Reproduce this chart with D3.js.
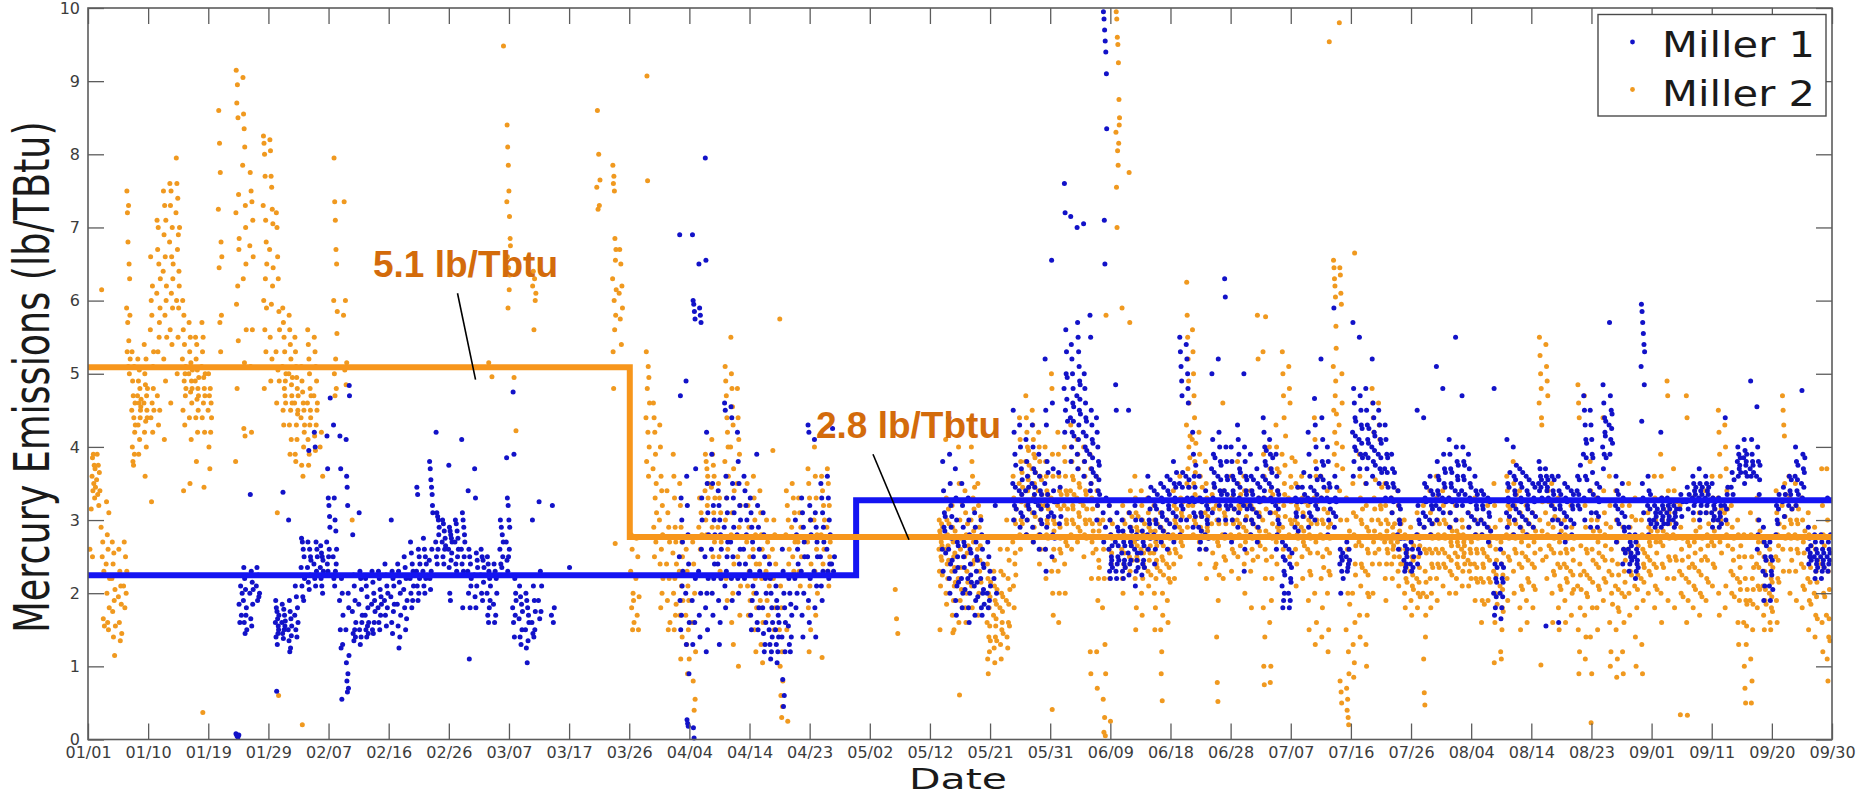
<!DOCTYPE html>
<html lang="en">
<head>
<meta charset="utf-8">
<script src="https://cdn.jsdelivr.net/npm/d3@7"></script>
<style>
  body { margin: 0; background: #fff; }
  svg { display: block; }
</style>
</head>
<body>
<script>
// x axis: days since 01/01, ticks evenly spaced up to 09/30
const lastDay = 272;
const tickLabels = ["01/01","01/10","01/19","01/29","02/07","02/16","02/26","03/07","03/17","03/26",
  "04/04","04/14","04/23","05/02","05/12","05/21","05/31","06/09","06/18","06/28",
  "07/07","07/16","07/26","08/04","08/14","08/23","09/01","09/11","09/20","09/30"];
const yTicks = [0,1,2,3,4,5,6,7,8,9,10];

// limit levels (lb/TBtu), step changes: [day, level]
const miller1Limit = [[0, 2.245], [119.8, 3.27], [272, 3.27]];
const miller2Limit = [[0, 5.09], [84.5, 2.77], [272, 2.77]];

// readings: [day, readings through that day in time order...]
const miller1 = [
  [23.3,0.08,0.05,0.03,0.06],[23.8,1.85,1.6,2.1,1.7,2.0],[24.5,1.9,2.35,1.6,2.2,1.45,2.05,1.7,1.8,1.5],
  [25.5,2.0,3.35,1.65,2.3,1.55,2.15,1.85,2.05],[26.5,2.1,2.35,1.9,2.25,1.95,2.0],
  [29.5,1.6,1.9,1.4,1.8,0.66,1.75,1.3,1.65,1.45,1.55,1.5,1.7],[30.5,1.6,1.85,1.45,3.38,1.38,1.78,1.5,1.7,1.55,1.62],
  [31.5,1.5,3.0,1.35,1.9,1.2,1.75,1.25,1.65,1.42,1.55],[32.5,1.7,2.1,1.5,1.95,1.4,1.8,1.6],
  [33.5,2.35,2.75,2.1,2.7,1.95,2.6,1.9,2.5,2.2],[34.5,2.35,2.7,2.15,3.95,2.05,2.6,2.25,2.5,2.45],
  [35.5,2.4,4.2,2.2,4.0,2.1,2.7,2.3,2.6,2.5],[36.5,2.35,2.65,2.2,2.55,2.1,2.5,2.0,2.45,2.3,2.25],
  [37.5,2.7,4.15,2.4,3.7,2.3,3.3,2.5,3.2,2.6,3.05,2.9,4.67],[38.5,2.5,4.3,2.2,3.3,2.1,3.0,2.3,2.85,2.4,2.6],
  [39.5,1.9,4.15,1.5,3.7,1.25,2.2,0.55,2.0,1.3,1.7],[40.5,1.5,4.1,1.05,3.6,0.8,3.45,0.65,3.2,0.9,2.0,0.7,1.8,1.15,4.84,4.7],
  [41.5,1.75,2.8,1.45,2.25,1.35,2.1,1.5,1.9,1.4,1.6],[42.5,1.85,3.1,1.5,2.3,1.3,2.2,1.4,2.05,1.6,1.7],
  [43.5,1.7,2.2,1.5,2.1,1.4,1.95,1.55,1.8,1.45,1.6],[44.5,1.85,2.3,1.5,2.15,1.45,2.0,1.6,1.9,1.75],
  [45.5,1.8,2.3,1.6,2.2,1.5,2.05,1.7,1.95,1.85],[46.5,1.9,2.4,1.7,2.25,1.55,2.1,1.8,2.0],
  [47.5,1.95,3.0,1.6,2.3,1.45,2.2,1.75,2.1,1.85],[48.5,1.85,2.4,1.55,2.3,1.25,2.15,1.4,2.0,1.7],
  [49.5,2.05,2.5,1.8,2.35,1.5,2.2,1.65,1.9],[50.5,2.2,2.7,2.0,2.55,1.8,2.4,1.9,2.3,2.1],
  [51.5,2.3,3.45,2.1,3.35,1.9,2.6,2.0,2.5,2.2,2.4],[52.5,2.3,2.75,2.1,2.6,2.0,2.5,2.2,2.4],
  [53.5,2.45,3.8,2.2,3.7,2.05,3.55,2.3,3.45,2.6,3.35,3.2,3.1],[54.5,2.7,4.2,2.5,3.1,2.4,3.05,2.6,3.0,2.8,2.9],
  [55.5,2.7,3.0,2.5,2.95,2.4,2.85,2.6,2.75,2.65],[56.5,2.6,3.75,2.35,2.9,2.0,2.85,1.9,2.8,2.45,2.75,2.55,2.7],
  [57.5,2.7,3.0,2.4,2.95,2.3,2.85,2.5,2.75,2.6],[58.5,2.6,4.1,2.4,3.1,1.8,3.0,2.3,2.9,2.5,2.8,2.7],
  [59.5,2.3,3.4,2.0,2.6,1.1,2.5,1.8,2.4,2.1,2.2],[60.5,2.25,3.7,1.95,3.3,1.8,2.55,2.1,2.45,2.35],
  [61.5,2.25,2.6,2.0,2.5,1.9,2.45,2.15,2.35],[62.5,2.0,2.5,1.7,2.4,1.6,2.3,1.8,2.2,1.9,2.1],
  [63.5,1.85,2.4,1.6,2.3,1.7,2.2,2.0],[64.5,2.6,3.0,2.4,2.9,2.35,2.8,2.5,2.7],
  [65.5,2.7,3.85,2.45,3.3,2.3,3.2,2.5,3.0,2.6,2.9],[66.5,1.8,4.75,1.6,3.9,1.4,2.2,1.7,2.0,1.9],
  [67.5,1.65,2.1,1.4,1.95,1.3,1.85,1.5,1.75],[68.5,1.5,2.0,1.25,1.9,1.05,1.8,1.35,1.7,1.6],
  [69.5,1.6,3.0,1.45,2.1,1.4,1.9,1.5,1.75],[70.5,1.9,3.25,1.65,2.3,1.75,2.1],[72.5,1.7,3.2,1.6,1.8],[75.1,2.35],
  [92.5,2.5,6.9,1.9,4.7,1.5,3.3,1.7,3.0,2.1,2.7,2.3],[93.5,2.0,4.9,1.3,3.6,0.27,3.2,0.22,2.8,0.18,2.4,0.9,1.6],
  [94.5,1.9,6.9,1.3,6.0,0.16,5.95,0.02,5.85,1.6,5.75,2.2,3.7],[95.5,2.3,6.5,1.7,5.9,1.4,5.8,2.0,5.7,2.6,3.3,3.0],
  [96.5,2.5,7.95,1.8,6.55,1.2,4.2,2.0,3.5,1.5,3.1,2.2,2.8],[97.5,2.6,3.9,2.0,3.5,1.7,3.2,2.2,3.0,2.4,2.8],
  [98.5,2.4,3.4,1.9,3.2,1.3,3.0,1.6,2.8,2.2,2.6],[99.5,2.9,4.6,2.1,4.5,1.8,3.6,2.3,3.3,2.5,3.1,2.7],
  [100.5,2.7,4.55,2.2,4.4,1.9,3.5,2.5,3.3,2.9,3.1],[101.5,2.8,4.2,2.2,3.8,2.0,3.5,2.4,3.2,2.6,3.0],
  [102.5,2.6,3.6,2.2,3.4,2.4,3.2,2.8,3.0],[103.5,2.3,3.3,1.7,3.1,1.5,2.9,1.9,2.7,2.1,2.5],
  [104.5,2.0,3.9,1.6,3.2,1.5,2.9,1.8,2.6,2.3],[105.5,1.8,3.1,1.45,2.8,1.2,2.5,1.3,2.2,1.6,2.0],
  [106.5,1.5,2.4,1.3,2.2,1.1,2.0,1.2,1.8,1.4,1.6],[107.5,1.5,2.1,1.3,1.9,1.05,1.8,1.2,1.7,1.4,1.6],
  [108.5,1.4,2.6,0.82,2.3,0.45,2.0,0.6,1.8,1.2,1.6],[109.5,1.55,2.2,1.3,2.0,1.2,1.85,1.4,1.7],
  [110.5,2.2,3.0,1.8,2.8,2.0,2.6,2.4],[111.5,2.3,3.3,1.7,3.1,1.4,2.9,2.0,2.7,2.5],
  [112.5,2.5,4.3,1.9,4.2,1.6,3.2,2.2,3.0,2.8],[113.5,2.3,4.1,1.8,3.1,1.4,2.9,2.1,2.7,2.5],
  [114.5,2.5,3.5,2.1,3.3,1.9,3.1,2.3,2.9,2.7],[115.5,2.6,3.6,2.3,3.3,2.2,3.0,2.4,2.8],[116.2,2.4,4.25,2.3,2.5],
  [133.5,2.6,3.8,2.3,3.4,2.9,3.1,2.85,3.05,2.55],[134.5,2.6,4.4,2.2,3.9,2.0,3.5,2.4,3.2,2.9,2.75,3.05,2.45],
  [135.5,2.3,3.7,1.9,3.3,1.7,3.0,2.1,2.7,2.5,2.35,2.65,2.15],[136.5,2.2,3.5,1.8,3.2,2.0,2.9,2.5,2.7,2.35,2.65,2.05],
  [137.5,2.2,3.3,1.8,3.0,1.6,2.8,2.0,2.6,2.4,2.25,2.55,2.15],[138.5,2.1,3.1,1.7,2.9,1.9,2.7,2.3,2.5,2.15,2.45,1.95],
  [139.5,2.2,3.0,1.8,2.8,1.7,2.6,2.0,2.4,2.05,2.35,1.85],[140.5,2.0,2.7,1.8,2.5,1.9,2.3,2.1],[141.5,2.2,3.2,2.0],
  [144.5,3.5,4.5,3.0,4.2,3.2,3.9,3.45,3.75,3.15],[145.5,3.4,4.3,2.9,4.0,3.1,3.7,3.35,3.55,3.05],
  [146.5,3.4,4.1,2.8,3.8,3.0,3.6,3.2,3.25,3.45,3.15],[147.5,3.5,4.3,2.9,4.0,2.7,3.7,3.1,3.35,3.45,3.65,3.25],
  [148.5,3.2,3.9,2.6,3.6,2.8,3.4,3.0,3.15,3.35,2.95],[149.5,3.5,5.2,2.6,4.5,2.3,4.3,2.9,3.8,3.2,3.35,3.65,3.05],
  [150.5,3.1,6.55,2.5,4.6,2.8,3.7,3.4,3.05,3.25,2.75],[151.5,3.25,3.65,2.95,3.45,3.05],
  [152.5,4.8,7.6,4.2,7.2,4.5,5.6,5.0,5.3,4.65,4.95,4.35],[153.5,4.4,7.15,3.8,5.4,4.0,5.2,4.2,5.0,4.6,4.8,4.35,4.55,4.15],
  [154.5,4.7,7.0,3.9,5.7,3.7,5.5,4.1,5.3,4.3,5.1,4.5,4.9,4.65,4.85,4.45],[155.5,4.2,7.05,3.6,5.0,3.8,4.8,4.0,4.6,4.4,4.15,4.35,3.95],
  [156.5,3.9,5.8,3.4,5.5,3.5,4.5,3.7,4.3,4.1,3.85,4.05,3.65],[157.5,3.6,4.4,3.0,4.2,3.2,4.0,3.4,3.8,3.55,3.75,3.35],
  [158.6,3.1,9.95,2.7,9.85,7.1,9.7,6.5,9.55,2.9,9.4,3.3,9.1,8.35],[159.5,2.6,3.2,2.3,3.0,2.2,2.8,2.4,2.5,2.45,2.65,2.35],
  [160.5,2.7,4.85,2.3,4.5,2.2,3.1,2.4,2.9,2.5,2.65,2.85,2.45],[161.5,2.55,3.0,2.3,2.85,2.2,2.7,2.4,2.45,2.65,2.35],
  [162.5,2.55,4.5,2.25,3.1,2.4,2.9,2.7,2.45,2.65,2.85],[163.5,2.6,3.2,2.1,3.0,2.3,2.8,2.45,2.55,2.75,2.35],
  [164.5,2.55,3.0,2.25,2.85,2.4,2.7,2.45,2.65,2.35],[165.5,2.8,3.6,2.6,3.3,3.0,2.95,3.15,2.75,3.45],
  [166.5,2.8,3.4,2.4,3.2,2.6,3.0,2.95,3.15,2.75,3.35],[167.5,2.9,3.5,2.7,3.3,3.1,3.05,3.25,2.85,3.45],
  [168.5,3.0,3.6,2.6,3.4,2.8,3.2,3.15,3.35,2.95,3.55],[169.5,3.1,3.8,2.7,3.5,2.9,3.3,3.25,3.45,3.05,3.65],
  [170.5,3.5,5.5,2.8,5.3,3.0,5.1,3.2,4.9,4.7,3.45,3.65,3.15],[171.5,3.6,5.4,3.0,5.2,3.3,5.0,4.8,4.6,3.45,3.55,3.25],
  [172.5,3.3,4.2,2.9,3.9,3.1,3.6,3.25,3.45,3.05,3.75],[173.5,2.9,3.6,2.6,3.3,2.7,3.1,2.85,3.05,3.25],
  [174.5,2.8,3.4,2.6,3.2,3.0,2.95,3.15,2.75],[175.5,3.7,5.0,3.1,4.1,3.3,3.9,3.5,3.65,3.45,3.85],
  [176.5,3.6,5.2,3.0,4.2,3.2,4.0,3.4,3.8,3.55,3.75,3.35],[177.5,3.4,6.3,2.8,6.05,3.0,4.0,3.2,3.8,3.6,3.35,3.55,3.15],
  [178.5,3.2,4.0,2.7,3.8,3.0,3.6,3.4,3.35,3.55,3.15],[179.5,3.5,4.3,2.9,4.1,3.1,3.9,3.3,3.7,3.45,3.65,3.25],
  [180.5,3.2,5.0,2.3,4.0,2.6,3.8,3.0,3.6,3.4,3.35,3.55,3.15],[181.5,3.2,3.9,2.8,3.6,3.0,3.4,3.15,3.35,2.95,3.55],
  [182.5,3.1,3.7,2.7,3.5,2.9,3.3,3.05,3.25,3.45],[183.5,3.6,4.4,3.3,4.2,3.4,4.0,3.8,3.55,3.75,3.95],
  [184.5,3.5,4.1,3.1,3.9,3.3,3.7,3.45,3.65,3.25,3.85],[185.5,3.2,3.9,2.6,3.6,2.8,3.4,3.0,3.15,3.35,2.95],
  [186.5,2.1,2.7,1.8,2.5,1.9,2.3,2.0,2.25,2.45,2.65],[187.5,2.0,2.6,1.8,2.4,1.9,2.2,2.15,2.35,2.55],
  [188.5,2.9,3.3,3.1,3.05,3.25,3.45,2.85],[189.5,3.25,3.45,3.05,3.65,3.35],[190.5,3.3,4.2,2.9,3.9,3.1,3.6,3.25,3.45,3.05],
  [191.5,3.4,4.66,3.0,4.3,3.2,4.0,3.7,3.35,3.55,3.15],[192.5,3.6,5.2,3.3,4.4,3.8,4.1,3.55,3.75,3.45],
  [193.5,3.3,4.0,2.8,3.8,3.0,3.5,3.25,3.45,3.15],[194.5,3.1,5.9,2.9,3.6,3.3,3.05,3.25,3.45],
  [195.5,2.4,2.6,2.0,2.5,2.3,2.45,2.55,2.2],[196.5,2.5,2.7,2.3,2.35,2.4,2.6,2.45],
  [197.5,4.2,5.7,3.6,4.8,3.8,4.6,4.0,4.4,4.15,4.35,3.95],[198.5,4.1,5.5,3.7,4.7,3.9,4.5,4.3,4.05,4.25,3.85],
  [199.5,3.9,4.8,3.5,4.5,3.7,4.3,4.1,3.85,4.05,4.25],[200.5,4.0,5.2,3.6,4.6,3.8,4.4,4.2,3.95,4.15,3.75],
  [201.5,3.9,4.5,3.5,4.3,3.7,4.1,3.85,4.05,3.65],[202.5,3.7,4.3,3.3,4.1,3.5,3.9,3.65,3.85,3.45],
  [203.5,3.3,3.9,3.1,3.7,3.5,3.25,3.45,3.65],[204.5,2.8,3.4,2.6,3.2,3.0,2.95,3.15,2.75],
  [205.5,2.45,2.75,2.3,2.65,2.35,2.55,2.4,2.5,2.6],[206.5,2.4,2.7,2.3,2.6,2.35,2.5],
  [207.5,2.8,4.5,2.4,3.2,2.6,3.0,2.75,2.95,2.55],[208.5,3.1,4.4,2.9,3.5,3.3,3.05,3.25,3.45],
  [209.5,3.0,3.6,2.8,3.4,3.2,2.95,3.15,3.35],[210.5,3.2,5.1,3.0,3.8,3.4,3.6,3.35,3.55,3.15],
  [211.5,3.3,4.8,3.1,3.9,3.5,3.7,3.45,3.65,3.25],[212.5,3.3,4.1,2.9,3.9,3.1,3.7,3.5,3.45,3.65,3.25],
  [213.5,3.4,5.5,3.0,4.0,3.2,3.8,3.6,3.55,3.75,3.35],[214.5,3.4,4.7,3.2,4.0,3.6,3.8,3.55,3.75,3.35],
  [215.5,3.1,3.9,2.9,3.7,3.3,3.5,3.25,3.45,3.05],[216.5,3.0,3.6,2.8,3.4,3.2,3.15,3.35,2.95],
  [217.5,3.0,3.4,2.8,3.2,3.15,3.35,2.95],[218.5,2.9,3.3,2.7,3.1,3.05,3.25,2.85],
  [219.5,2.0,4.8,1.7,2.4,1.8,2.2,1.95,2.15,2.35],[220.5,2.0,2.6,1.65,2.4,1.8,2.2,1.95,2.15,2.35],
  [221.5,3.1,4.1,2.9,3.5,3.3,3.25,3.45,3.05,3.65],[222.5,3.2,4.0,2.8,3.6,3.0,3.4,3.35,3.55,3.15,3.75],
  [223.5,3.1,3.7,2.9,3.5,3.3,3.25,3.45,3.05,3.65],[224.5,3.0,3.6,2.8,3.4,3.2,3.15,3.35,2.95,3.55],
  [225.5,3.1,3.5,2.9,3.3,3.25,3.45,3.05],[226.5,3.5,3.8,3.4,3.7,3.6,3.45,3.55,3.3],
  [227.5,3.5,3.7,1.55,3.6,3.4,3.45,3.55,3.3],[228.5,3.2,3.6,3.0,3.4,3.35,3.55,3.15],
  [229.5,3.0,3.6,1.6,3.4,2.8,3.2,3.15,3.35,2.95],[230.5,3.1,3.5,2.7,3.3,2.9,3.05,3.25,3.45],
  [231.5,3.0,3.4,2.8,3.2,3.15,3.35,2.95],[232.5,3.4,3.6,3.2,3.35,3.55,3.15,3.75],
  [233.5,3.9,4.7,3.3,4.5,3.0,4.3,3.6,4.1,3.85,4.05,3.55],[234.5,3.4,4.5,2.9,4.3,3.1,4.1,3.9,3.65,3.85,3.35],
  [235.5,3.1,3.5,2.9,3.3,3.05,3.25,3.45],[236.5,4.0,4.85,3.7,4.6,3.9,4.4,4.2,4.15,4.35,3.85],
  [237.5,4.3,5.7,3.9,4.7,4.1,4.5,4.25,4.45,4.05],[238.5,3.2,3.6,2.7,3.4,3.0,3.15,3.35,2.95],
  [239.5,3.1,3.5,2.4,3.3,2.6,2.9,2.85,3.05,2.55],[240.5,2.6,2.9,2.3,2.8,2.4,2.7,2.5,2.55,2.65,2.45],
  [241.5,2.5,2.8,2.2,2.7,2.3,2.6,2.4,2.45,2.55,2.35],
  [242.5,5.1,5.95,4.35,5.85,3.5,5.7,3.3,5.55,3.1,5.4,4.85,5.3],[243.5,3.2,3.6,2.8,3.4,3.0,3.15,3.35,2.95],
  [244.5,3.0,3.2,2.9,3.1,3.05,2.95,3.15],[245.5,3.1,4.2,2.9,3.3,3.0,3.2,3.05,3.15,2.95],
  [246.5,3.1,3.3,2.95,3.2,3.0,3.05,3.15,3.25],[247.5,3.0,3.2,2.9,3.1,3.05,2.95,3.15],
  [248.5,3.15,3.35,3.05,3.25],[249.5,3.25,3.45,3.15,3.35],
  [250.5,3.3,3.6,3.1,3.5,3.2,3.4,3.25,3.35,3.45],[251.5,3.3,3.7,3.0,3.5,3.1,3.4,3.2,3.25,3.35,3.45],
  [252.5,3.3,3.6,3.1,3.5,3.2,3.4,3.25,3.35,3.45],[253.5,3.1,3.5,2.9,3.3,3.0,3.2,3.05,3.15,3.25],
  [254.5,3.0,3.3,2.9,3.1,3.05,3.2,2.95],[255.5,3.2,4.4,3.0,3.15,3.35,3.45],[256.5,3.45,3.65,3.35,3.55],
  [257.5,3.8,4.0,3.6,3.9,3.7,3.75,3.85,3.65],[258.5,3.85,4.1,3.5,3.95,3.65,3.75,3.8,3.9,3.6],
  [259.5,3.7,4.9,3.6,4.1,3.9,3.8,3.75,3.65],[260.5,3.6,4.55,2.6,4.0,2.8,3.8,3.0,3.35,3.55,3.75],
  [261.5,2.3,2.9,1.9,2.7,2.1,2.5,2.25,2.45,2.65],[262.5,2.1,2.7,1.9,2.5,2.3,2.25,2.45,2.05],
  [263.5,2.8,3.2,3.0,2.95,3.15,3.35],[264.5,3.25,3.45,3.05,3.35],[265.5,3.2,3.6,3.4,3.35,3.55,3.15],
  [266.5,3.6,4.0,3.2,3.8,3.4,3.55,3.75,3.35],[267.5,3.5,4.77,3.3,3.9,3.7,3.45,3.65,3.85],
  [268.5,2.6,2.9,2.4,2.75,2.5,2.55,2.65,2.45],[269.5,2.5,2.8,2.2,2.7,2.3,2.6,2.4,2.45,2.55,2.35],
  [270.5,2.5,2.8,2.2,2.7,2.3,2.6,2.4,2.45,2.55,2.35],[271.5,2.5,3.3,2.3,2.7,2.4,2.6,2.45,2.55,2.8]
];

const miller2 = [
  [0.5,2.6,3.15,2.5],[0.9,3.6,3.85,3.4,3.9,3.5,3.75,3.3,3.7,3.45],[1.6,3.55,3.9,3.35,3.75,3.2,3.65,3.4],
  [2.3,2.9,6.15,2.5,2.7,1.65,2.3,1.55],[3.1,2.4,3.25,2.0,2.8,1.6,2.6,1.5,3.1,1.8,2.2],
  [4.0,2.2,2.7,1.75,2.4,1.4,2.55,1.9,1.15,2.05,1.55],[5.0,1.95,2.6,1.6,2.3,1.35,2.1,1.85,1.45],
  [5.8,2.1,2.7,1.8,2.5,2.0,2.3],[6.3,5.9,7.5,5.3,7.2,5.7,6.8,5.1,7.3,5.45,6.5,5.0,6.3,5.8,5.2],
  [7.1,4.5,5.3,4.0,4.9,3.8,4.7,3.75,4.4,5.1,3.9,4.2,4.6,4.3],[8.0,4.7,5.2,4.3,4.9,3.9,4.6,5.05,4.1,4.8,4.4,4.5,4.55,4.65],
  [9.0,4.6,5.4,4.2,5.0,3.6,4.85,4.35,5.2,4.0,4.7,4.5,4.4,4.8],[10.0,5.6,6.6,4.4,6.0,3.25,5.8,4.6,6.2,4.2,5.1,4.8,5.3,4.5],
  [11.0,6.1,7.1,4.7,6.7,5.3,7.0,4.3,6.5,5.5,5.7,4.5,5.9,6.3],[12.0,6.4,7.5,5.2,6.9,4.1,7.3,5.8,6.6,4.9,7.1,6.0,6.2,5.5],
  [13.0,6.8,7.6,5.6,7.3,4.6,7.5,6.1,6.6,5.4,7.0,5.9,6.3,6.5],[14.0,7.2,7.95,6.0,7.6,5.0,6.7,7.4,5.5,6.9,5.9,6.4,6.2,7.0],
  [15.0,5.2,6.0,4.5,5.6,3.4,5.8,4.9,5.4,4.3,5.0,4.7,5.1,4.8],[16.0,5.0,5.7,4.4,5.3,3.5,5.5,4.75,5.15,4.1,4.9,4.6,4.8,5.05],
  [17.0,4.9,5.5,4.4,5.2,3.8,5.4,4.65,5.05,4.2,4.8,4.5,4.7,4.95],[18.0,5.1,5.7,4.4,5.3,0.37,5.5,4.6,4.95,3.45,4.8,4.2,4.7,5.0],
  [19.0,4.5,5.0,4.0,4.7,3.7,4.8,4.2,4.6,4.4],[20.6,7.25,8.6,6.45,8.15,5.7,7.75,5.3,6.8,5.8,6.6],
  [23.3,3.8,7.2,9.15,5.95,8.7,4.8,8.95,6.2,8.5,5.45,7.45,6.7,6.85],
  [24.4,7.85,9.05,6.3,8.55,4.25,8.35,5.15,8.1,4.15,7.3,7.0,6.5,5.6],[25.5,6.75,7.75,5.1,7.5,4.2,7.35,5.6,7.1,6.6],
  [27.6,7.3,8.25,6.0,8.15,4.8,8.0,5.6,7.7,6.3,7.1,5.3,6.8,5.9,6.5],
  [28.6,6.7,8.2,5.5,8.05,4.9,7.7,5.95,7.55,5.2,7.25,6.2,7.05,6.45],
  [29.6,5.3,7.2,4.6,7.0,3.1,6.6,5.05,6.3,0.6,5.85,4.9,5.6],[30.6,5.1,5.9,4.5,5.7,4.3,5.5,4.8,5.3,4.7,4.9,4.6,5.0],
  [31.6,5.0,5.8,4.3,5.6,3.9,5.4,4.5,5.2,4.1,4.85,4.7,4.6,4.95],[32.5,4.6,5.5,3.9,5.3,3.8,5.1,4.3,4.95,4.1,4.8,4.45,4.5,4.7],
  [33.5,4.4,5.1,3.75,4.9,0.2,4.75,3.6,4.6,4.0,4.5,4.2,4.3],[34.5,4.6,5.6,4.1,5.4,3.75,5.2,3.9,5.0,4.3,4.8,4.5,4.4,4.7],
  [35.5,4.7,5.5,4.15,5.3,3.95,5.1,4.3,4.9,4.5,4.6],[36.4,4.0,4.2,3.6],
  [38.6,6.0,7.95,5.0,7.35,4.7,7.1,5.2,6.7,4.8,6.5,5.55,5.85],[40.1,5.8,7.35,5.05,6.0,4.85,5.15],[41.2,3.0],
  [62.5,5.15],[63.0,4.96],[64.8,9.48],[65.6,7.35,8.4,6.6,8.1,5.9,7.85,6.45,7.5,6.15,7.15,6.35,6.85,6.75],
  [66.6,4.95,4.22],[69.6,6.2,6.4,5.6,6.3,6.0,6.1],[79.6,7.55,8.6,7.25,8.0,7.3,7.65],
  [82.1,6.3,7.85,5.3,7.6,4.8,7.7,6.0,7.5,5.6,6.85,2.68,6.55,5.8,6.7,6.15],[83.1,6.1,6.7,5.75,6.5,5.4,6.2,5.9],
  [84.9,2.3,2.8,1.8,2.6,1.5,2.0,1.9,1.6],[85.7,2.2,2.75,1.7,2.5,1.5,1.95],
  [87.3,4.4,5.3,3.8,9.07,4.8,7.64,4.2,5.1,3.6,4.95,4.0,4.6],[88.4,3.7,4.6,2.9,4.4,2.5,4.2,3.3,3.9,2.7,3.5,3.1],
  [89.4,3.0,4.3,2.4,4.0,1.8,3.6,2.6,3.4,2.0,3.2,2.8,2.2],[90.5,2.4,3.4,1.9,3.1,1.5,2.9,2.2,2.7,1.6],
  [91.5,2.55,3.9,2.0,3.6,1.5,3.3,2.2,2.9,1.7,2.7,1.85,2.4],[92.5,2.3,3.5,1.7,3.2,1.1,2.9,2.1,2.7,1.4,2.5,1.9],
  [93.5,1.7,2.6,1.3,2.3,0.9,2.1,1.5,1.9,1.1],[94.5,1.6,2.7,0.8,2.4,0.4,2.0,0.55,1.2],[95.5,2.9,3.3,2.6,3.1,2.8],
  [96.5,3.4,3.9,3.0,3.8,2.8,3.7,3.2,3.6,3.3,3.5],[97.5,3.45,4.1,2.9,3.9,2.5,3.75,3.1,3.6,2.7,3.3],
  [98.5,2.9,3.5,2.5,3.3,2.3,3.1,2.7],[99.6,3.8,5.1,3.0,4.9,2.2,4.7,3.3,4.4,1.9,4.2,2.6,4.0,3.6],
  [100.5,4.0,5.5,2.8,5.0,1.6,4.8,3.1,4.55,2.0,4.3,1.3,3.7,2.4,3.4],
  [101.5,3.5,4.8,2.5,4.4,1.0,4.1,2.9,3.9,1.7,3.2,2.1],[103.0,2.7,3.5,2.1,3.2,1.7,2.9,2.3,2.5,1.9],
  [104.0,2.6,3.6,2.0,3.3,1.5,3.0,2.2,2.8,1.2,2.4,1.8],[105.0,2.4,3.4,1.9,3.1,1.3,2.8,2.2,2.6,1.05,1.6],
  [106.0,2.3,3.0,1.9,2.7,1.7,2.5,2.1],[107.0,2.6,3.95,2.2,3.0,1.5,2.8,1.8,2.4],
  [108.1,1.5,5.75,1.0,2.1,0.6,1.8,0.3,1.2,0.45,0.8],[109.1,2.8,3.4,1.5,3.2,0.25,3.0,2.4,2.6],
  [110.0,2.9,3.5,2.5,3.3,2.3,3.1,2.7],[111.0,2.7,3.3,2.3,3.1,2.1,2.9,2.5],
  [112.5,2.7,3.7,1.8,3.5,1.2,3.3,2.1,3.0,1.5,2.4],[113.5,3.0,4.0,2.3,3.6,1.7,3.3,2.6,2.8,2.0],
  [114.6,2.8,3.6,1.12,3.4,2.4,3.2,2.6,3.0],[115.5,2.9,3.7,2.3,3.5,2.1,3.2,2.5,2.7],[126.1,2.05,1.65,1.45],
  [133.0,2.6,3.0,2.3,2.85,1.5,2.8,2.1,2.75,2.5,2.7,2.95,2.45,2.65,2.25,2.9],[134.0,2.6,4.1,2.0,3.3,1.85,3.0,2.4,2.8,2.2,2.65,3.15,2.45,2.95],
  [135.0,2.3,3.2,1.7,2.9,1.46,2.7,1.9,2.5,1.5,2.1,2.35,2.55,2.85,2.15],[136.0,2.2,4.0,1.6,3.5,0.61,3.0,1.9,2.6,2.35,2.75,2.05,3.25],
  [137.0,2.5,3.4,1.8,3.1,1.6,2.8,2.0,2.3,2.55,2.95,2.15,2.65],[138.0,3.0,4.0,2.1,3.8,1.8,3.6,2.4,3.3,2.7,2.85,3.15,2.45,3.45],
  [139.0,2.6,3.5,1.7,3.2,2.0,2.9,2.3,2.45,2.65,3.05,2.15],[140.5,1.6,2.4,1.1,2.2,0.9,2.0,1.4,1.8,1.2,1.55,1.95,1.35,2.15],
  [141.5,1.7,2.3,1.25,2.1,1.05,1.9,1.4,1.55,1.65,1.85,1.35,2.05],[142.5,1.8,2.6,1.3,2.3,1.1,2.0,1.5,1.6,1.75,1.95,1.45,2.25],
  [143.5,1.9,3.0,1.4,2.6,1.25,2.2,1.6,1.85,2.45,1.55,2.05],[144.5,2.7,3.6,2.1,3.3,1.8,3.0,2.4,2.55,2.95,2.25,3.15],
  [145.5,3.5,4.4,2.8,4.1,2.6,3.8,3.0,3.25,3.35,3.65,2.95,3.45],[146.5,3.8,4.7,3.2,4.4,2.8,4.2,3.0,4.0,3.4,3.6,3.55,3.95,3.15,3.75],
  [147.5,3.7,4.5,3.1,4.3,2.7,4.1,3.3,3.9,2.9,3.5,3.45,3.85,3.05,3.65],[148.5,3.4,4.2,2.8,4.0,2.4,3.8,3.0,3.6,2.6,3.2,3.15,3.55,2.95,3.35],
  [149.5,3.2,4.0,2.6,3.8,2.2,3.6,2.8,3.4,3.0,2.95,3.35,2.75,3.15],[150.5,3.3,5.0,2.3,4.8,0.41,3.9,2.0,3.6,1.7,3.0,2.6,2.85,3.25,2.45,2.95],
  [151.5,3.2,4.2,2.3,3.9,1.6,3.6,2.0,3.4,2.6,2.9,2.75,3.15,2.55,3.35],[152.5,3.2,4.0,2.4,3.8,2.0,3.6,2.7,3.4,3.0,2.95,3.35,2.65,3.15],
  [153.5,3.4,4.3,2.8,4.0,2.6,3.8,3.0,3.6,3.2,3.15,3.55,2.95,3.35],[154.5,3.3,4.1,2.7,3.9,2.9,3.7,3.1,3.5,3.05,3.45,2.85,3.25],
  [155.5,3.2,4.0,2.5,3.8,2.8,3.6,3.0,3.4,2.95,3.35,2.75,3.15],[156.5,3.0,3.9,1.2,3.7,0.9,3.5,2.2,3.3,2.7,2.95,3.15,2.55,2.85],
  [157.5,2.6,3.6,1.2,3.4,0.7,3.2,1.9,3.0,2.2,2.45,2.85,2.35,2.95],[158.5,1.8,3.0,0.55,2.6,0.1,2.2,0.3,1.3,0.05,0.9,5.8],
  [159.5,2.6,3.2,2.2,3.0,0.25,2.8,2.4,2.55,2.75,2.95],[160.6,8.3,9.95,7.55,9.85,7.0,9.6,8.05,9.5,7.85,9.25,8.15,8.75,8.4,8.5],
  [161.5,2.6,5.9,2.2,3.2,2.0,3.0,2.4,2.8,2.55,2.75,2.95,2.35],[162.6,3.1,7.75,2.5,5.7,2.3,3.4,2.7,2.9,2.65,2.85,3.05,2.45],
  [163.5,2.7,3.6,2.2,3.3,1.5,3.1,1.8,2.9,2.5,2.65,2.85,2.45,3.05],[164.5,2.6,3.4,2.0,3.2,1.7,3.0,2.2,2.8,2.4,2.55,2.75,2.35,2.95],
  [165.5,2.6,3.3,2.3,3.1,2.1,2.9,2.45,2.75,2.55,2.65,2.85,2.25],[166.5,2.55,3.2,2.0,3.0,1.5,2.85,1.8,2.7,2.2,2.4,2.45,2.65,2.35,2.95],
  [167.5,2.3,3.1,1.5,2.9,0.9,2.7,1.2,2.5,0.53,2.0,1.7,2.45,2.65,2.25,2.85],[168.5,2.4,3.0,1.9,2.8,1.6,2.6,2.2,2.35,2.55,2.75,2.15],
  [169.5,2.8,3.4,2.4,3.2,2.2,3.0,2.6,2.75,2.95,2.55,3.15],[170.5,2.9,3.6,2.5,3.3,2.7,3.1,2.85,3.05,2.65,3.25],
  [171.6,4.3,6.25,3.5,5.8,2.9,5.5,3.7,5.2,3.2,4.9,4.0,4.6,3.45,3.05,3.85,4.15],[172.5,4.1,5.6,3.2,5.3,2.8,5.0,3.5,4.7,3.0,4.4,3.8,3.35,3.65,2.95,4.05],
  [173.5,3.3,4.2,2.7,3.9,2.4,3.6,2.9,3.1,3.05,3.25,2.85,3.45],[174.5,3.1,3.8,2.6,3.5,2.2,3.3,2.9,2.85,3.05,2.75,3.25],
  [175.5,2.95,3.35,2.55,3.15,2.75,3.45,2.35],[176.2,2.4,3.2,1.4,3.0,0.78,2.7,0.52,1.9,2.65,2.95,2.25,3.15],
  [177.2,2.8,4.6,2.2,3.4,2.5,3.1,2.75,3.05,2.45,2.95],[178.5,2.8,3.6,2.3,3.3,2.6,3.0,2.75,2.95,2.55,3.15],
  [179.5,3.0,3.8,2.5,3.5,2.2,3.2,2.8,2.95,3.15,2.65,3.35],[180.5,2.9,3.6,2.4,3.4,2.0,3.2,2.7,3.0,2.85,3.05,2.55,3.25],
  [181.5,2.8,3.4,2.3,3.2,1.8,3.0,2.6,2.75,2.95,2.45,3.15],[182.6,2.9,5.8,2.5,5.2,2.7,3.3,3.1,2.85,3.05,2.65,3.25],
  [183.5,3.0,5.3,1.8,3.9,1.0,3.6,0.75,3.3,1.4,2.6,2.2,5.78,2.85,3.15,2.45],[184.5,2.8,4.0,1.6,3.7,0.78,3.4,1.0,3.1,1.9,2.5,2.2,2.75,2.95,3.35],
  [185.5,3.1,4.3,2.7,4.0,2.4,3.7,2.9,3.4,3.05,3.25,2.85,3.65],[186.5,3.9,5.3,2.9,5.0,2.6,4.7,3.2,4.4,3.5,3.35,3.75,3.05,4.15],
  [187.5,3.3,5.1,2.8,4.8,2.5,4.6,3.0,3.6,3.25,3.45,2.95,3.85],[188.5,3.0,3.8,2.6,3.5,2.1,3.2,2.4,2.8,2.95,3.15,2.75,3.45],
  [189.5,2.9,3.6,2.5,3.3,2.2,3.1,2.7,2.85,3.05,2.65,3.25],[190.5,2.6,3.2,1.9,3.0,1.5,2.8,2.3,2.55,2.75,2.25,2.95],
  [191.5,3.3,4.4,2.0,4.1,1.3,3.8,2.7,3.6,1.6,3.0,2.95,3.25,2.55],[192.5,2.8,3.6,2.2,3.3,1.4,3.0,1.8,2.5,2.75,2.95,2.35,3.15],
  [193.5,2.6,3.4,2.0,3.1,1.2,2.9,1.5,2.3,9.54,2.55,2.75,2.25,2.95],[194.5,5.1,6.55,4.5,6.45,3.9,6.3,4.2,6.2,4.7,6.05,4.9,5.65,5.35,4.45,4.05,3.75],
  [195.4,4.3,9.8,3.4,6.45,0.8,6.35,3.0,6.1,0.65,5.95,0.5,5.0,4.6,4.0,3.7],
  [196.5,1.5,3.3,0.7,3.0,0.4,2.6,0.55,2.0,0.3,1.2,0.2,0.9,2.45,2.85,1.85],[197.5,2.0,3.5,1.3,3.1,0.85,2.8,1.05,6.65,1.6,2.4,2.25,2.65,3.05],
  [198.5,2.7,3.9,1.7,3.6,1.4,3.3,2.1,3.0,2.4,2.65,2.95,2.35,3.15],[199.5,2.3,3.5,1.3,3.2,1.0,2.9,1.7,2.6,2.0,2.25,2.55,2.85,1.95],
  [200.5,3.0,4.8,2.4,4.6,2.0,4.4,2.7,4.2,3.3,2.85,3.15,2.55,3.55],[201.5,3.0,4.6,2.6,4.3,2.4,4.1,2.8,3.2,2.95,3.15,2.75,3.45],
  [202.5,2.7,3.5,2.2,3.2,1.9,3.0,2.4,2.85,2.6,2.75,2.55,2.95],[203.5,2.7,3.3,2.4,3.1,2.2,2.9,2.6,2.8,2.65,2.75,2.5,2.95],
  [204.5,2.7,3.4,2.3,3.2,2.1,3.0,2.5,2.85,2.6,2.75,2.4,2.95],[205.5,2.4,3.0,2.0,2.8,1.8,2.6,2.2,2.35,2.55,2.15,2.75],
  [206.5,2.3,2.9,1.9,2.7,1.7,2.5,2.1,2.25,2.45,2.05,2.65],[207.5,2.2,3.1,1.8,2.8,2.0,2.5,2.15,2.35,2.65,1.95],
  [208.5,2.0,3.2,1.1,2.9,0.64,2.6,0.47,2.3,1.4,1.7,2.15,2.55,1.95],[209.5,2.6,3.4,2.2,3.1,1.8,2.8,2.0,2.4,2.55,2.75,2.35,2.95],
  [210.5,2.6,3.6,2.2,3.3,1.9,3.0,2.4,2.8,2.55,2.75,2.35,2.95],[211.5,2.6,3.4,2.1,3.2,2.4,3.0,2.8,2.55,2.75,2.35,2.95],
  [212.5,2.5,3.3,2.0,3.1,2.3,2.9,2.7,2.45,2.65,2.25,2.85],[213.5,2.55,3.2,2.0,3.0,2.2,2.85,2.4,2.7,2.5,2.65,2.35,2.8],
  [214.5,2.6,3.0,2.1,2.9,2.3,2.8,2.5,2.7,2.55,2.65,2.4,2.75],[215.5,2.45,3.1,2.1,2.9,2.3,2.75,2.6,2.4,2.55,2.2,2.7],
  [216.5,2.4,3.3,1.9,3.0,2.2,2.8,2.6,2.35,2.55,2.15,2.75],[217.5,2.2,3.0,1.6,2.8,1.9,2.6,2.4,2.15,2.35,2.55,1.85],
  [218.5,2.5,3.2,1.9,2.9,2.2,2.7,2.45,2.65,2.15,2.85],[219.5,2.3,3.5,1.05,3.2,1.6,2.9,2.0,2.6,2.25,2.45,2.75,1.85],
  [220.5,2.1,3.0,1.2,2.7,1.1,2.4,1.5,1.8,2.05,2.25,1.75,2.55],[221.5,2.8,3.6,2.2,3.4,1.9,3.2,2.5,3.0,2.75,2.95,2.45,3.15],
  [222.5,2.8,3.8,2.3,3.5,2.0,3.2,2.6,3.0,2.75,2.95,2.55,3.35],[223.5,2.4,3.4,1.8,3.1,1.5,2.9,2.1,2.7,2.35,2.55,2.05,2.85],
  [224.5,2.5,3.2,1.9,3.0,1.6,2.8,2.2,2.45,2.65,2.15,2.95],[225.5,2.4,3.1,1.8,2.9,2.1,2.7,2.35,2.55,2.05,2.85],
  [226.6,4.6,5.5,3.0,5.25,2.6,5.0,1.02,4.8,4.4,4.3,2.85,3.25,2.45],[227.6,3.1,5.4,2.5,5.1,2.2,4.9,2.8,4.7,3.4,2.95,3.25,2.65],
  [228.5,2.6,3.5,2.0,3.2,1.6,2.9,2.3,2.55,2.75,2.25,3.05],[229.5,2.4,3.3,1.8,3.0,1.5,2.7,2.1,2.35,2.55,2.05,2.85],
  [230.5,2.4,3.0,1.9,2.8,1.6,2.6,2.2,2.35,2.55,2.15,2.75],[231.5,2.3,3.2,1.7,2.9,2.0,2.6,2.25,2.45,2.05,2.75],
  [232.6,2.1,4.85,1.5,4.6,0.9,4.4,1.2,2.4,1.8,2.25,2.65,2.05],[233.6,2.3,4.7,1.7,3.2,1.1,2.9,1.4,2.6,2.0,2.25,2.55,1.95],
  [234.5,2.2,3.8,1.4,3.4,0.23,3.0,0.9,2.6,1.8,2.15,2.45,2.85],[235.5,2.4,3.3,1.8,3.0,1.5,2.7,2.1,2.35,2.55,2.05,2.85],
  [236.5,2.5,4.4,1.9,3.4,2.2,3.1,2.8,2.45,2.65,2.15,2.95],[237.5,2.3,3.6,1.6,3.2,1.0,2.9,1.2,2.6,2.0,2.25,2.45,1.85],
  [238.5,2.1,3.4,1.5,3.0,0.85,2.7,1.1,2.4,1.8,2.05,2.25,1.75],[239.5,2.0,3.2,1.2,2.9,0.9,2.6,1.6,2.3,1.95,2.15,2.45],
  [240.5,2.6,3.5,2.0,3.2,1.7,2.9,2.3,2.55,2.75,2.25,3.05],[241.5,2.1,3.3,1.4,3.0,1.0,2.7,1.8,2.4,2.05,2.25,2.65],
  [242.5,2.2,3.0,1.3,2.8,0.9,2.6,1.9,2.4,2.15,2.35,2.55],[243.5,2.5,3.1,2.0,2.9,2.3,2.7,2.45,2.65,2.25,2.85],
  [244.5,2.4,3.6,1.8,3.3,2.1,3.0,2.7,2.35,2.55,2.05,2.85],[245.5,2.7,3.9,2.0,3.6,1.6,3.3,2.4,3.0,2.65,2.85,2.35,3.15],
  [246.5,2.8,4.9,2.2,4.7,1.9,3.4,2.5,3.1,2.75,2.95,2.45,3.25],[247.5,2.8,3.7,2.2,3.4,1.8,3.1,2.5,2.75,2.95,2.45,3.25],
  [248.5,2.3,3.2,0.34,2.9,2.0,2.6,2.25,2.45,2.75,1.95],[249.5,2.2,4.7,1.6,4.4,0.33,2.7,1.9,2.5,2.15,2.35,2.65],
  [250.5,2.4,3.3,1.8,3.0,2.1,2.7,2.35,2.55,2.05,2.85],[251.5,2.3,3.1,1.7,2.9,2.0,2.6,2.25,2.45,1.95,2.75],
  [252.5,2.5,3.4,1.9,3.1,2.2,2.8,2.45,2.65,2.15,2.95],[253.5,2.7,3.6,2.1,3.3,2.4,3.0,2.65,2.85,2.35,3.15],
  [254.5,3.3,4.5,2.0,4.2,1.7,3.9,2.7,3.6,3.0,2.95,3.15,2.55],[255.5,3.1,4.3,1.8,4.0,2.1,3.7,2.8,3.4,2.95,3.15,2.65],
  [256.5,2.3,3.2,2.0,2.9,2.6,2.25,2.45,2.75,1.95],[257.5,2.2,3.0,1.6,2.8,1.3,2.5,1.9,2.15,2.35,2.05,2.65],
  [258.5,1.6,2.8,1.0,2.5,0.7,2.2,0.5,1.9,1.3,1.55,1.85,2.05],[259.5,1.9,3.1,1.1,2.8,0.5,2.5,0.8,2.2,1.5,1.85,2.05,2.35],
  [260.5,2.4,3.3,1.8,3.0,2.1,2.7,2.35,2.55,2.05,2.85],[261.5,2.1,2.7,1.7,2.5,1.5,2.3,1.9,2.05,2.25,1.85,2.45],
  [262.5,2.0,2.6,1.6,2.4,1.5,2.2,1.8,1.95,2.15,1.75,2.35],[263.5,2.5,3.4,1.9,3.1,1.6,2.8,2.2,2.45,2.65,2.15,2.95],
  [264.5,3.2,4.7,2.6,4.5,2.3,4.3,2.9,4.15,3.5,3.05,2.75,3.35],[265.5,2.8,3.6,2.3,3.3,2.0,3.0,2.6,2.75,2.95,2.45,3.15],
  [266.5,2.8,3.5,2.3,3.2,1.9,3.0,2.6,2.75,2.95,2.55,3.15],[267.5,2.4,3.3,1.8,3.0,2.1,2.7,2.35,2.55,2.05,2.85],
  [268.5,2.2,3.1,1.5,2.8,1.9,2.5,2.15,2.35,1.85,2.65],[269.5,2.0,2.9,1.4,2.6,1.7,2.3,1.95,2.15,1.65,2.45],
  [270.6,2.4,3.7,1.6,3.2,1.2,2.8,2.0,2.35,2.65,1.95],[271.4,1.7,3.7,1.1,3.0,0.8,2.3,1.4,1.65,2.05,1.35]
];

// callouts: label anchor and pointer line, in data units (day, lb/TBtu)
const notes = [
  { text: "5.1 lb/Tbtu", at: [44.45, 6.32], from: [57.63, 6.10], to: [60.44, 4.92] },
  { text: "2.8 lb/Tbtu", at: [113.54, 4.12], from: [122.43, 3.90], to: [128.04, 2.73] }
];

const W = 1856, H = 796;
const plot = { left: 88, right: 1832, top: 8, bottom: 739.5 };
const font = '"DejaVu Sans", Verdana, sans-serif';
const axisColor = '#5c5c5c';
const tickLen = 16;

const x = d3.scaleLinear().domain([0, lastDay]).range([plot.left, plot.right]);
const y = d3.scaleLinear().domain([0, 10]).range([plot.bottom, plot.top]);
const tickDays = tickLabels.map((_, i) => i * lastDay / (tickLabels.length - 1));

// each day's readings sit in time order across the middle of that day
function readings(rows) {
  return rows.flatMap(([day, ...vals]) =>
    vals.map((v, i) => ({ t: day - 0.3 + 0.6 * (i + 0.5) / vals.length, v })));
}

const svg = d3.select('body').append('svg').attr('width', W).attr('height', H);

svg.append('defs').append('clipPath').attr('id', 'plotClip')
  .append('rect').attr('x', plot.left).attr('y', 0)
  .attr('width', plot.right - plot.left).attr('height', H);

const pts = svg.append('g').attr('clip-path', 'url(#plotClip)');

pts.append('g').selectAll('circle')
  .data(readings(miller2)).enter().append('circle')
  .attr('cx', d => x(d.t)).attr('cy', d => y(d.v)).attr('r', 2.5)
  .attr('fill', '#f0991f');

pts.append('g').selectAll('circle')
  .data(readings(miller1)).enter().append('circle')
  .attr('cx', d => x(d.t)).attr('cy', d => y(d.v)).attr('r', 2.5)
  .attr('fill', '#1212c8');

// limit step lines
const step = d3.line().x(d => x(d[0])).y(d => y(d[1])).curve(d3.curveStepAfter);
svg.append('path').attr('d', step(miller1Limit))
  .attr('fill', 'none').attr('stroke', '#1414f2').attr('stroke-width', 6);
svg.append('path').attr('d', step(miller2Limit))
  .attr('fill', 'none').attr('stroke', '#f7961c').attr('stroke-width', 6);

// axes, ticks pointing inward on all four sides
function styleAxis(g) {
  g.select('.domain').remove();
  g.selectAll('.tick line').attr('stroke', axisColor).attr('stroke-width', 1.3);
  g.selectAll('.tick text').attr('fill', '#3c3c3c')
    .attr('font-family', font).attr('font-size', 16);
}

svg.append('g').attr('transform', `translate(0,${plot.bottom})`)
  .call(d3.axisBottom(x).tickValues(tickDays).tickFormat((d, i) => tickLabels[i])
    .tickSize(-tickLen).tickPadding(7))
  .call(styleAxis);
svg.append('g').attr('transform', `translate(0,${plot.top})`)
  .call(d3.axisTop(x).tickValues(tickDays).tickFormat('').tickSize(-tickLen))
  .call(styleAxis);
svg.append('g').attr('transform', `translate(${plot.left},0)`)
  .call(d3.axisLeft(y).tickValues(yTicks).tickSize(-tickLen).tickPadding(8))
  .call(styleAxis);
svg.append('g').attr('transform', `translate(${plot.right},0)`)
  .call(d3.axisRight(y).tickValues(yTicks).tickFormat('').tickSize(-tickLen))
  .call(styleAxis);

svg.append('rect')
  .attr('x', plot.left).attr('y', plot.top)
  .attr('width', plot.right - plot.left).attr('height', plot.bottom - plot.top)
  .attr('fill', 'none').attr('stroke', axisColor).attr('stroke-width', 1.6);

// axis titles (the source figure is stretched sideways, so the glyphs are widened)
svg.append('text')
  .attr('transform', `translate(49,377) scale(1.35,1) rotate(-90)`)
  .attr('text-anchor', 'middle')
  .attr('font-family', font).attr('font-size', 36.5).attr('fill', '#1a1a1a')
  .text('Mercury Emissions (lb/TBtu)');

svg.append('text')
  .attr('x', 958).attr('y', 789).attr('text-anchor', 'middle')
  .attr('font-family', font).attr('font-size', 29).attr('fill', '#1a1a1a')
  .attr('textLength', 98).attr('lengthAdjust', 'spacingAndGlyphs')
  .text('Date');

// callouts
notes.forEach(n => {
  svg.append('line')
    .attr('x1', x(n.from[0])).attr('y1', y(n.from[1]))
    .attr('x2', x(n.to[0])).attr('y2', y(n.to[1]))
    .attr('stroke', '#000').attr('stroke-width', 1.6);
  svg.append('text')
    .attr('x', x(n.at[0])).attr('y', y(n.at[1]))
    .attr('font-family', '"Liberation Sans", Arial, sans-serif')
    .attr('font-weight', 'bold').attr('font-size', 37).attr('fill', '#d36b0b')
    .text(n.text);
});

// legend
const legend = svg.append('g');
legend.append('rect')
  .attr('x', 1598).attr('y', 14.5).attr('width', 228).attr('height', 101.5)
  .attr('fill', '#fff').attr('stroke', '#4a4a4a').attr('stroke-width', 1.4);
const series = [
  { name: 'Miller 1', color: '#1212c8' },
  { name: 'Miller 2', color: '#f0991f' }
];
series.forEach((s, i) => {
  legend.append('circle').attr('cx', 1632.5).attr('cy', 42 + i * 47.5).attr('r', 2.4).attr('fill', s.color);
  legend.append('text')
    .attr('x', 1662).attr('y', 57 + i * 49)
    .attr('font-family', font).attr('font-size', 35).attr('fill', '#1a1a1a')
    .attr('textLength', 153).attr('lengthAdjust', 'spacingAndGlyphs')
    .text(s.name);
});
</script>
</body>
</html>
